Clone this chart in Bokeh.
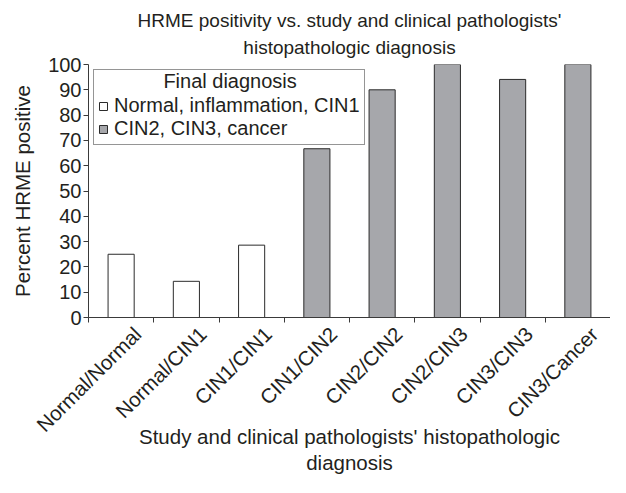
import math
from bokeh.plotting import figure
from bokeh.models import (ColumnDataSource, FixedTicker, Legend, LegendItem,
                          Label, Title, Range1d)
from bokeh.embed import file_html
from bokeh.resources import INLINE

# ---- data ----
categories = ["Normal/Normal", "Normal/CIN1", "CIN1/CIN1", "CIN1/CIN2",
              "CIN2/CIN2", "CIN2/CIN3", "CIN3/CIN3", "CIN3/Cancer"]
percent_positive = [25.0, 14.3, 28.6, 66.7, 90.0, 100.0, 94.1, 100.0]
final_group = ["low", "low", "low", "high", "high", "high", "high", "high"]
group_names = ["low", "high"]
group_labels = ["Normal, inflammation, CIN1", "CIN2, CIN3, cancer"]
group_colors = ["#ffffff", "#a6a7ab"]
y_ticks = [0, 10, 20, 30, 40, 50, 60, 70, 80, 90, 100]

FONT = "Liberation Sans"
TXT = "#231f20"

p = figure(width=610, height=477, output_backend="svg", toolbar_location=None,
           x_range=Range1d(-0.5, len(categories) - 0.5), y_range=Range1d(0, 100),
           min_border_left=88, min_border_right=0, min_border_top=64,
           min_border_bottom=160, title=None)
p.outline_line_color = None
p.xgrid.visible = False
p.ygrid.visible = False
p.background_fill_color = "white"
p.border_fill_color = "white"

renderers = []
for g, col in zip(group_names, group_colors):
    idx = [i for i, fg in enumerate(final_group) if fg == g]
    src = ColumnDataSource(dict(x=idx, top=[percent_positive[i] for i in idx]))
    r = p.vbar(x="x", top="top", bottom=0, width=0.4, source=src,
               fill_color=col, line_color="#2b2b2b", line_width=1)
    renderers.append(r)

# x axis: labels slightly right of bar centre, ticks at category boundaries
LAB_SHIFT = 0.25
xa = p.xaxis[0]
xa.ticker = FixedTicker(ticks=[i + LAB_SHIFT for i in range(len(categories))],
                        minor_ticks=[i - 0.5 for i in range(len(categories) + 1)])
xa.major_label_overrides = {i + LAB_SHIFT: c for i, c in enumerate(categories)}
xa.major_tick_out = 0
xa.major_tick_in = 0
xa.minor_tick_out = 5
xa.minor_tick_in = 0
xa.major_label_orientation = math.pi / 4
xa.major_label_standoff = 8
xa.major_label_text_font_size = "20.5px"
xa.axis_label = "Study and clinical pathologists' histopathologic\ndiagnosis"
xa.axis_label_standoff = -22
xa.axis_label_text_font_size = "20.5px"
xa.axis_label_text_line_height = 1.12

# y axis
ya = p.yaxis[0]
ya.ticker = FixedTicker(ticks=y_ticks, minor_ticks=[])
ya.major_tick_out = 5
ya.major_tick_in = 0
ya.axis_label = "Percent HRME positive"
ya.axis_label_standoff = 11
ya.major_label_standoff = 2
ya.major_label_text_font_size = "20px"
ya.axis_label_text_font_size = "20.5px"

for ax in (xa, ya):
    ax.axis_line_color = "#3a3a3a"
    ax.major_tick_line_color = "#3a3a3a"
    ax.minor_tick_line_color = "#3a3a3a"
    ax.major_label_text_font = FONT
    ax.major_label_text_color = TXT
    ax.axis_label_text_font = FONT
    ax.axis_label_text_font_style = "normal"
    ax.axis_label_text_color = TXT

# title: two centred lines
t2 = Title(text="histopathologic diagnosis", align="center", text_font=FONT,
           text_font_size="19px", text_font_style="normal", text_color=TXT,
           standoff=14)
t1 = Title(text="HRME positivity vs. study and clinical pathologists'", align="center",
           text_font=FONT, text_font_size="19px", text_font_style="normal",
           text_color=TXT, standoff=-6)
p.add_layout(t2, "above")
p.add_layout(t1, "above")

# legend (transparent fill so its centred title label shows)
legend = Legend(items=[LegendItem(label=lab, renderers=[r])
                       for lab, r in zip(group_labels, renderers)],
                location="top_left", margin=5, padding=4, spacing=0,
                title=" ", title_text_font_size="15px", title_standoff=3,
                label_text_font=FONT, label_text_font_size="20px",
                label_text_color=TXT, glyph_width=10, glyph_height=10,
                label_height=20, label_standoff=6,
                border_line_color="#2b2b2b", border_line_width=1,
                background_fill_alpha=0.0)
p.add_layout(legend)
p.add_layout(Label(x=1.67, y=93.3, text="Final diagnosis", text_align="center",
                   text_baseline="middle", text_font=FONT, text_font_size="20px",
                   text_color=TXT))

open("out.html", "w").write(file_html(p, INLINE))
